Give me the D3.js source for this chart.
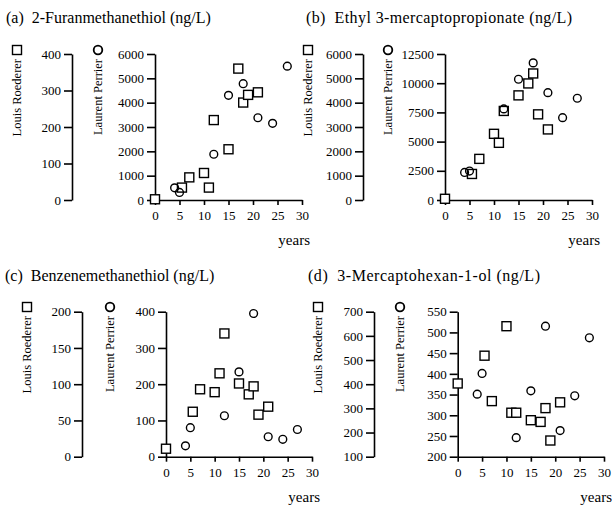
<!DOCTYPE html>
<html>
<head>
<meta charset="utf-8">
<script src="https://cdn.jsdelivr.net/npm/d3@7"></script>
<style>
  html, body { margin: 0; padding: 0; background: #fff; }
  svg { display: block; font-family: "Liberation Serif", "Times New Roman", serif; }
</style>
</head>
<body>
<svg id="chart" width="612" height="505"></svg>
<script>
// ---------- data ----------
const xTicks = [0, 5, 10, 15, 20, 25, 30];
const yearsLR = [0, 5.5, 7, 10, 11, 12, 15, 17, 18, 19, 21];   // Louis Roederer ages
const yearsLP = [4, 5, 12, 15, 18, 21, 24, 27];                 // Laurent Perrier ages

const titles = [
  "(a)  2-Furanmethanethiol (ng/L)",
  "(b)  Ethyl 3-mercaptopropionate (ng/L)",
  "(c)  Benzenemethanethiol (ng/L)",
  "(d)  3-Mercaptohexan-1-ol (ng/L)"
];

const furanLR = [2, 34, 62, 74, 34, 219, 139, 360, 267, 288, 295];
const furanLP = [500, 310, 1880, 4300, 4780, 3380, 3150, 5500];
const ethylLR = [50, 1070, 1690, 2720, 2350, 3660, 4300, 4790, 5200, 3520, 2900];
const ethylLP = [2360, 2480, 7800, 10340, 11740, 9190, 7050, 8710];
const benzLR = [11, 62, 93, 89, 115, 170, 101, 86, 97, 58, 69];
const benzLP = [30, 80, 113, 234, 395, 55, 48, 75];
const mercLR = [403, 518, 330, 640, 282, 282, 251, 244, 301, 167, 325];
const mercLP = [351, 401, 246, 359, 515, 263, 347, 487];

const furanTicksLR = [0, 100, 200, 300, 400];
const furanTicksLP = [0, 1000, 2000, 3000, 4000, 5000, 6000];
const ethylTicksLR = [0, 1000, 2000, 3000, 4000, 5000, 6000];
const ethylTicksLP = [0, 2500, 5000, 7500, 10000, 12500];
const benzTicksLR = [0, 50, 100, 150, 200];
const benzTicksLP = [0, 100, 200, 300, 400];
const mercTicksLR = [100, 200, 300, 400, 500, 600, 700];
const mercTicksLP = [200, 250, 300, 350, 400, 450, 500, 550];

const lrName = "Louis Roederer";
const lpName = "Laurent Perrier";
const xName = "years";

// ---------- layout ----------
const panels = [
  { title: titles[0], lr: furanLR, lp: furanLP, tLR: furanTicksLR, tLP: furanTicksLP,
    titleX: 6, titleY: 23, titleW: 0, lrX: 72, lpX: 155, xRight: 302, yTop: 54, yBot: 200, lrLabX: 17, lpLabX: 98, markY: 50 },
  { title: titles[1], lr: ethylLR, lp: ethylLP, tLR: ethylTicksLR, tLP: ethylTicksLP,
    titleX: 306, titleY: 23, titleW: 266, lrX: 363, lpX: 445, xRight: 592, yTop: 54, yBot: 200, lrLabX: 308, lpLabX: 388, markY: 50 },
  { title: titles[2], lr: benzLR, lp: benzLP, tLR: benzTicksLR, tLP: benzTicksLP,
    titleX: 5, titleY: 281, titleW: 0, lrX: 82, lpX: 166, xRight: 312, yTop: 311.7, yBot: 456.7, lrLabX: 27, lpLabX: 110, markY: 307 },
  { title: titles[3], lr: mercLR, lp: mercLP, tLR: mercTicksLR, tLP: mercTicksLP,
    titleX: 308, titleY: 281, titleW: 232, lrX: 374, lpX: 457.7, xRight: 604, yTop: 311.7, yBot: 456.7, lrLabX: 318, lpLabX: 400, markY: 307 }
];

const svg = d3.select("#chart");
const SW = 1.6;

panels.forEach(p => {
  const g = svg.append("g");

  const t = g.append("text").attr("x", p.titleX).attr("y", p.titleY)
    .attr("font-size", 16).attr("fill", "#000").attr("xml:space", "preserve")
    .text(p.title);
  if (p.titleW) t.attr("textLength", p.titleW).attr("lengthAdjust", "spacing");

  const x = d3.scaleLinear().domain([0, 30]).range([p.lpX, p.xRight]);
  const yLR = d3.scaleLinear().domain(d3.extent(p.tLR)).range([p.yBot, p.yTop]);
  const yLP = d3.scaleLinear().domain(d3.extent(p.tLP)).range([p.yBot, p.yTop]);

  const styleAxis = sel => {
    sel.selectAll("path, line").attr("stroke", "#000").attr("stroke-width", SW);
    sel.selectAll("text").attr("font-size", 13).attr("fill", "#000")
      .attr("font-family", "Liberation Serif, Times New Roman, serif");
  };

  g.append("g").attr("transform", `translate(${p.lrX},0)`)
    .call(d3.axisLeft(yLR).tickValues(p.tLR).tickFormat(d3.format("d")).tickSize(8).tickSizeOuter(0).tickPadding(3))
    .call(styleAxis);

  g.append("g").attr("transform", `translate(${p.lpX},0)`)
    .call(d3.axisLeft(yLP).tickValues(p.tLP).tickFormat(d3.format("d")).tickSize(8).tickSizeOuter(0).tickPadding(3))
    .call(styleAxis);

  g.append("g").attr("transform", `translate(0,${p.yBot})`)
    .call(d3.axisBottom(x).tickValues(xTicks).tickFormat(d3.format("d")).tickSize(5).tickSizeOuter(0).tickPadding(6))
    .call(styleAxis);

  // axis titles
  g.append("text").attr("transform", `translate(${p.lrLabX + 4},${p.markY + 9}) rotate(-90)`)
    .attr("text-anchor", "end").attr("font-size", 12.5).attr("fill", "#000").text(lrName);
  g.append("rect").attr("x", p.lrLabX - 4.5).attr("y", p.markY - 4.5).attr("width", 9).attr("height", 9)
    .attr("fill", "none").attr("stroke", "#000").attr("stroke-width", 1.4);

  g.append("text").attr("transform", `translate(${p.lpLabX + 4},${p.markY + 9}) rotate(-90)`)
    .attr("text-anchor", "end").attr("font-size", 12.5).attr("fill", "#000").text(lpName);
  g.append("circle").attr("cx", p.lpLabX).attr("cy", p.markY).attr("r", 4.3)
    .attr("fill", "none").attr("stroke", "#000").attr("stroke-width", 1.8);

  g.append("text").attr("x", p.xRight + 8).attr("y", p.yBot + 45)
    .attr("text-anchor", "end").attr("font-size", 15).attr("fill", "#000").text(xName);

  // Louis Roederer squares (left axis)
  g.selectAll("rect.lr").data(p.lr).enter().append("rect").attr("class", "lr")
    .attr("x", (d, i) => x(yearsLR[i]) - 4.5).attr("y", d => yLR(d) - 4.5)
    .attr("width", 9).attr("height", 9)
    .attr("fill", "#fff").attr("stroke", "#000").attr("stroke-width", 1.4);

  // Laurent Perrier circles
  g.selectAll("circle.lp").data(p.lp).enter().append("circle").attr("class", "lp")
    .attr("cx", (d, i) => x(yearsLP[i])).attr("cy", d => yLP(d)).attr("r", 3.9)
    .attr("fill", "none").attr("stroke", "#000").attr("stroke-width", 1.4);
});
</script>
</body>
</html>
